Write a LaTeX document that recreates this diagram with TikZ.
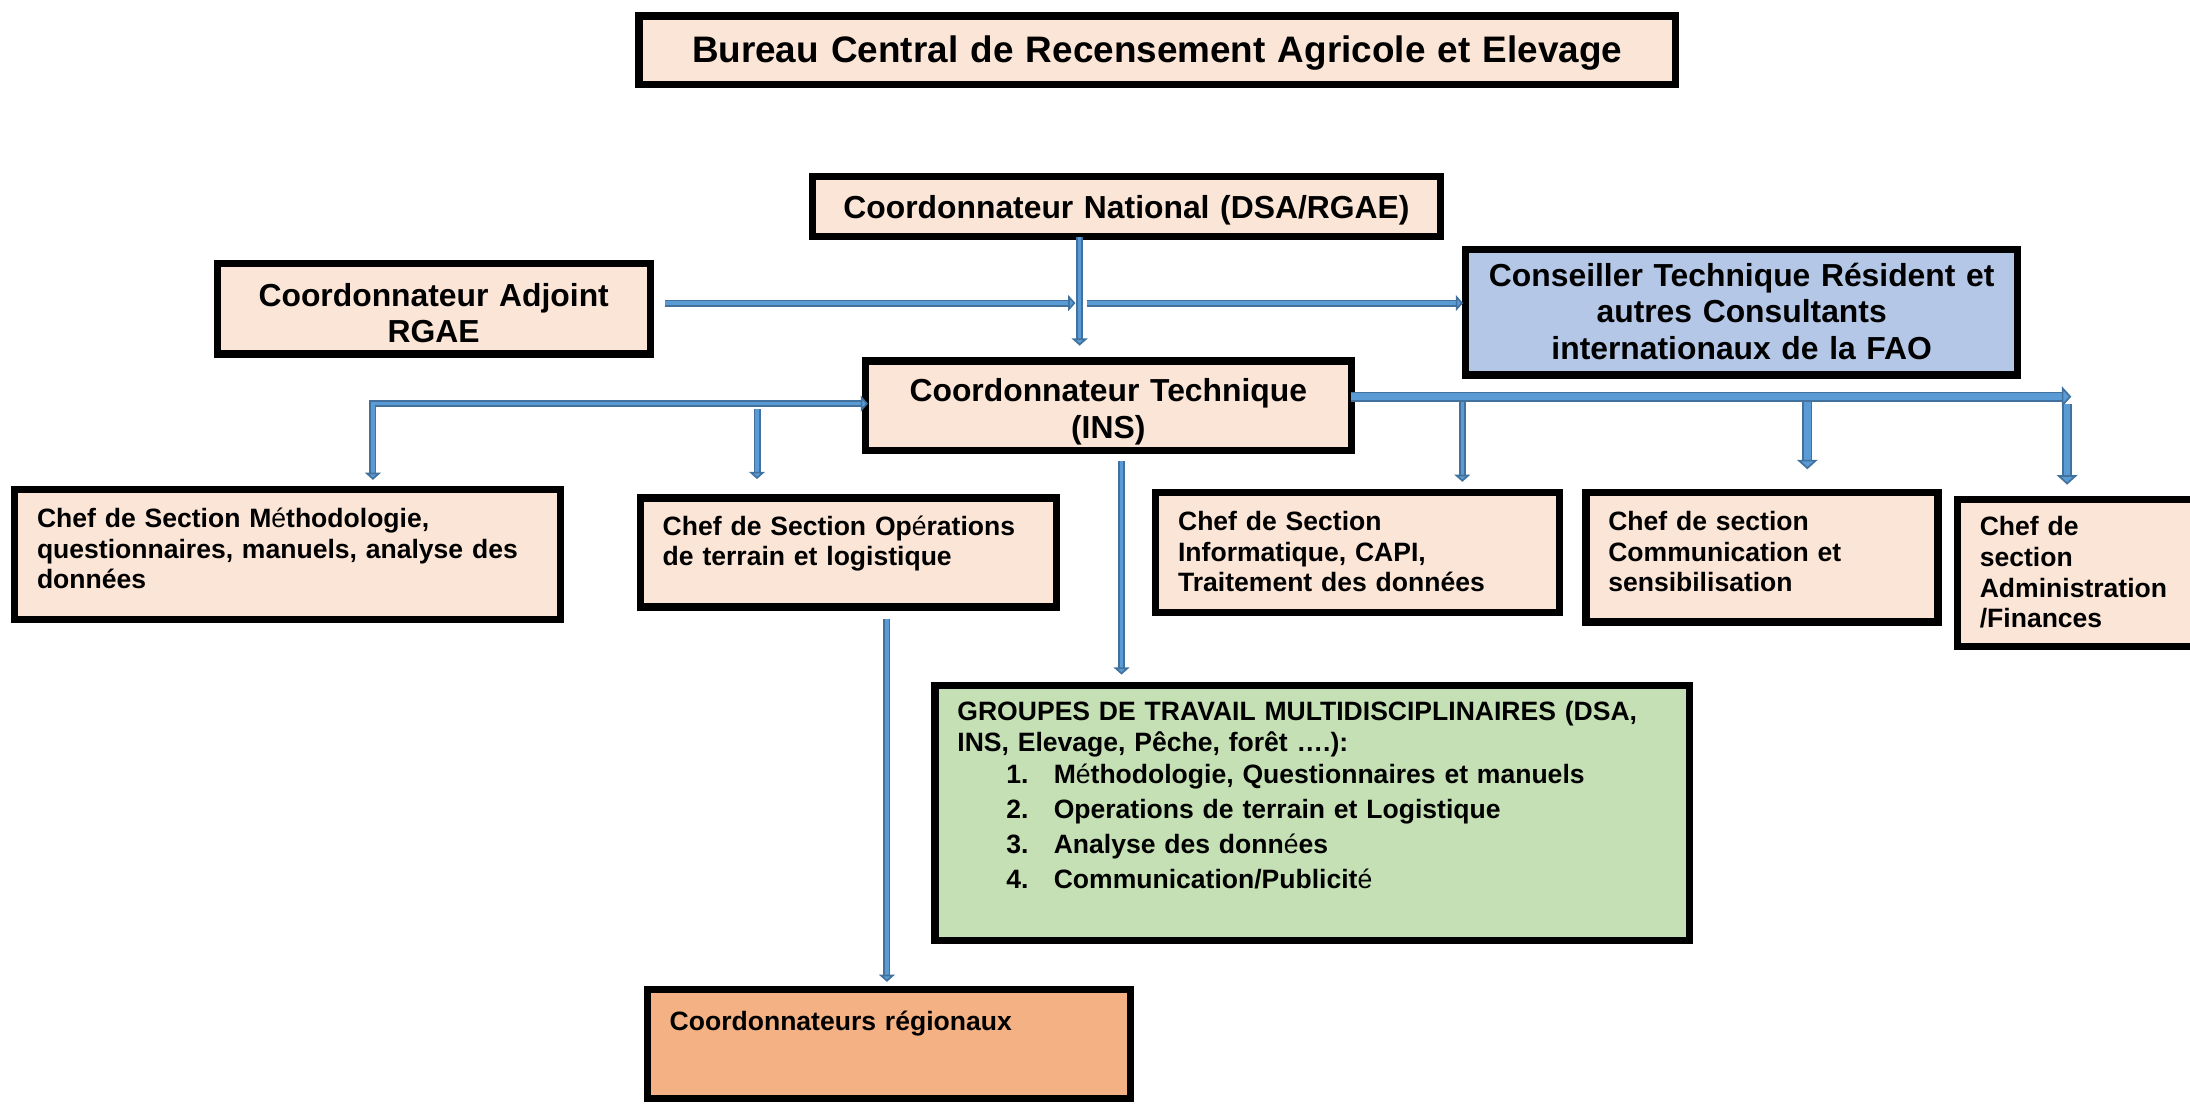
\documentclass[tikz,border=0pt]{standalone}
\usepackage{fontspec}
\setmainfont{Liberation Sans}
\usetikzlibrary{arrows.meta}

\definecolor{peach}{HTML}{FBE5D6}
\definecolor{conseilblue}{HTML}{B4C7E7}
\definecolor{groupgreen}{HTML}{C5E0B4}
\definecolor{regorange}{HTML}{F4B183}
\definecolor{pipefill}{HTML}{5B9BD5}
\definecolor{pipeedge}{HTML}{41719C}

\newcommand{\mde}{{\mdseries é}}

\tikzset{
	box/.style={draw=black, line width=2.6pt, fill=peach, align=center, anchor=north, inner sep=0pt, outer sep=0pt,
		font=\bfseries\fontsize{11.4}{13}\selectfont},
	sect/.style={draw=black, line width=2.6pt, fill=peach, align=left, anchor=north, outer sep=0pt,
		inner xsep=8pt, inner ysep=0pt, text height=13.55pt,
		font=\bfseries\fontsize{9.5}{11}\selectfont},
	>={Triangle[width=5.7pt,length=2.6pt,fill=pipefill]},
	pipe/.style={draw=pipeedge, line width=0.6pt, double=pipefill, double distance=1.3pt, ->},
	pipethick/.style={pipe, double distance=2.3pt, -{Triangle[width=7.4pt,length=3.4pt,fill=pipefill]}},
}

\begin{document}
\begin{tikzpicture}[x=0.5pt,y=-0.5pt]
	\useasboundingbox (0,0) rectangle (1568,790);

	\node[box, text width=371pt, text height=16.8pt, text depth=7.7pt, font=\bfseries\fontsize{13.2}{16}\selectfont] (bureau) at (828.5,11.5) {Bureau Central de Recensement Agricole et Elevage};
	\node[box, text width=225pt, text height=14.85pt, text depth=6.65pt] (national) at (806.5,126.5) {Coordonnateur National (DSA/RGAE)};
	\node[box, text width=155pt, text height=15.35pt, text depth=17.15pt] (adjoint) at (310.5,188.5) {Coordonnateur Adjoint\\RGAE};
	\node[box, fill=conseilblue, text width=197.5pt, text height=13.35pt, text depth=31.65pt] (conseiller) at (1247,178.5) {Conseiller Technique Résident et\\autres Consultants\\internationaux de la FAO};
	\node[box, text width=174pt, text height=14.35pt, text depth=17.65pt, font=\bfseries\fontsize{11.4}{13.5}\selectfont] (technique) at (793.5,258.5) {Coordonnateur Technique\\(INS)};

	% sections
	\node[sect, text width=179.5pt, text depth=32.8pt] (methodo) at (206,350.6) {Chef de Section M\mde thodologie,\\questionnaires, manuels, analyse des\\donn\'ees};
	\node[sect, text width=133pt, text height=13.3pt, text depth=25.7pt] (operations) at (607.5,356.6) {Chef de Section Op\mde rations\\de terrain et logistique};
	\node[sect, text width=128.5pt, text depth=29.3pt] (informatique) at (972,352.6) {Chef de Section\\Informatique, CAPI,\\Traitement des données};
	\node[sect, text width=110pt, text depth=32.8pt] (communication) at (1261.5,352.6) {Chef de section\\Communication et\\sensibilisation};
	\node[sect, text width=82pt, text height=13pt, text depth=39.55pt] (admin) at (1499.5,357.6) {Chef de\\section\\Administration\\/Finances};

	\node[sect, fill=groupgreen, text width=254pt, text height=12.8pt, text depth=78.7pt] (groupes) at (939.5,490.6) {GROUPES DE TRAVAIL MULTIDISCIPLINAIRES (DSA,\\INS, Elevage, Pêche, forêt ….):\\[0.5pt]
		\hspace*{17.5pt}\makebox[17pt][l]{1.}M\mde thodologie, Questionnaires et manuels\\[1.5pt]
		\hspace*{17.5pt}\makebox[17pt][l]{2.}Operations de terrain et Logistique\\[1.5pt]
		\hspace*{17.5pt}\makebox[17pt][l]{3.}Analyse des donn\mde es\\[1.5pt]
		\hspace*{17.5pt}\makebox[17pt][l]{4.}Communication/Publicit\mde};
	\node[sect, fill=regorange, text width=157pt, text height=14.55pt, text depth=24.45pt] (regionaux) at (636.5,708.6) {Coordonnateurs régionaux};

	% connectors
	\coordinate (hub) at (773,217);
	\draw[pipe] (national.south -| hub) -- ([yshift=5.5pt]technique.north -| hub);
	\draw[pipe] ([xshift=5.3pt]adjoint.east |- hub) -- ([xshift=-1.5pt]hub);
	\draw[pipe] ([xshift=2.5pt]hub) -- ([xshift=-1pt]hub -| conseiller.west);

	\coordinate (lcorner) at (267,289);
	\draw[pipe, <->] ([yshift=3.5pt]methodo.north -| lcorner) -- (lcorner) -- ([xshift=1pt]lcorner -| technique.west);
	\coordinate (opdrop) at (542,293);
	\draw[pipe] (opdrop) -- ([yshift=6.8pt]operations.north -| opdrop);

	\coordinate (rend) at (1483,284);
	\draw[pipethick] (technique.east |- rend) -- (rend);
	\coordinate (infodrop) at (1047,288);
	\draw[pipe] (infodrop) -- ([yshift=3.8pt]informatique.north -| infodrop);
	\coordinate (comdrop) at (1294,288);
	\draw[pipethick] (comdrop) -- ([yshift=8.3pt]communication.north -| comdrop);
	\coordinate (admdrop) at (1480,289);
	\draw[pipethick] (admdrop) -- ([yshift=5.3pt]admin.north -| admdrop);

	\coordinate (grpdrop) at (803,330);
	\draw[pipe] (grpdrop) -- ([yshift=3.8pt]groupes.north -| grpdrop);
	\coordinate (regdrop) at (635,443);
	\draw[pipe] (regdrop) -- ([yshift=2.8pt]regionaux.north -| regdrop);
\end{tikzpicture}
\end{document}
